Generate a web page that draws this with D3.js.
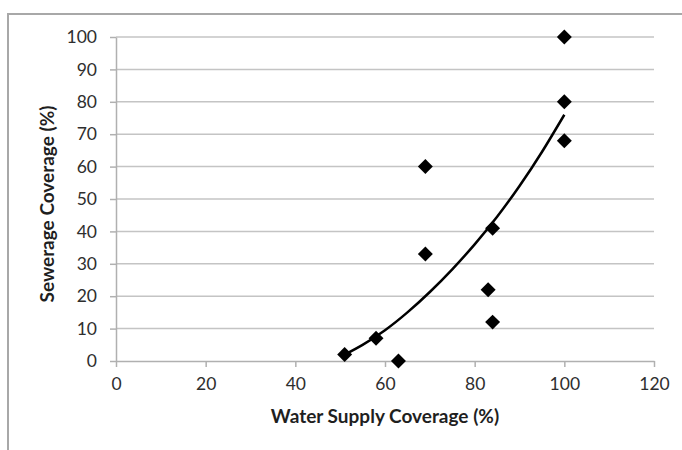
<!DOCTYPE html>
<html>
<head>
<meta charset="utf-8">
<script src="https://cdn.jsdelivr.net/npm/d3@7"></script>
<style>
  html, body { margin: 0; padding: 0; background: #fff; }
  svg { display: block; font-family: Lato, "Open Sans", sans-serif; }
</style>
</head>
<body>
<svg id="chart" width="682" height="450"></svg>
<script>
// Water supply vs. sewerage coverage (%) for each service area
const waterSupply = [100, 100, 100, 69, 84, 69, 83, 84, 58, 51, 63];
const sewerage    = [100,  80,  68, 60, 41, 33, 22, 12,  7,  2,  0];

// Fitted trend curve, sampled along the water-supply axis
const trendX = [51, 55, 60, 65, 70, 75, 80, 85, 90, 95, 100];
const trendY = [2, 5, 9.5, 15, 21.3, 28.3, 36, 44.5, 54, 64.5, 76];

const xTicks = [0, 20, 40, 60, 80, 100, 120];
const yTicks = [0, 10, 20, 30, 40, 50, 60, 70, 80, 90, 100];

const xTitle = "Water Supply Coverage (%)";
const yTitle = "Sewerage Coverage (%)";

const svg = d3.select("#chart");
const plot = { left: 116, right: 654, top: 37, bottom: 361 };

const x = d3.scaleLinear().domain([0, 120]).range([plot.left, plot.right]);
const y = d3.scaleLinear().domain([0, 100]).range([plot.bottom, plot.top]);

// chart frame
svg.append("rect")
  .attr("x", 8).attr("y", 14)
  .attr("width", 700).attr("height", 460)
  .attr("fill", "none")
  .attr("stroke", "#a8a8a8")
  .attr("stroke-width", 2);

// horizontal gridlines
svg.append("g")
  .selectAll("line")
  .data(yTicks.filter(d => d > 0))
  .join("line")
  .attr("x1", plot.left).attr("x2", plot.right)
  .attr("y1", d => y(d)).attr("y2", d => y(d))
  .attr("stroke", "#c4c4c4")
  .attr("stroke-width", 1.5);

// y axis
const yAxis = svg.append("g")
  .attr("transform", `translate(${plot.left},0)`)
  .call(d3.axisLeft(y).tickValues(yTicks).tickSize(6).tickPadding(13).tickSizeOuter(0));

// x axis
const xAxis = svg.append("g")
  .attr("transform", `translate(0,${plot.bottom})`)
  .call(d3.axisBottom(x).tickValues(xTicks).tickSize(6).tickPadding(11).tickSizeOuter(0));

[xAxis, yAxis].forEach(g => {
  g.select(".domain").attr("stroke", "#b0b0b0").attr("stroke-width", 1.5);
  g.selectAll(".tick line").attr("stroke", "#b0b0b0").attr("stroke-width", 1.5);
  g.selectAll(".tick text")
    .attr("fill", "#2e2e2e")
    .style("font-size", "17.5px")
    .style("font-family", "Lato, 'Open Sans', sans-serif");
});

// trend curve
const line = d3.line()
  .x(d => x(d[0]))
  .y(d => y(d[1]))
  .curve(d3.curveNatural);

svg.append("path")
  .datum(trendX.map((v, i) => [v, trendY[i]]))
  .attr("d", line)
  .attr("fill", "none")
  .attr("stroke", "#000")
  .attr("stroke-width", 2.5);

// diamond markers
const diamond = d3.symbol().type(d3.symbolSquare).size(112);
svg.append("g")
  .selectAll("path")
  .data(waterSupply.map((v, i) => [v, sewerage[i]]))
  .join("path")
  .attr("d", diamond)
  .attr("transform", d => `translate(${x(d[0])},${y(d[1])}) rotate(45)`)
  .attr("fill", "#000");

// axis titles
svg.append("text")
  .attr("x", (plot.left + plot.right) / 2)
  .attr("y", 423)
  .attr("text-anchor", "middle")
  .attr("fill", "#1f1f1f")
  .style("font-size", "19px")
  .style("font-weight", "bold")
  .text(xTitle);

svg.append("text")
  .attr("transform", `translate(54,${(plot.top + plot.bottom) / 2 + 5}) rotate(-90)`)
  .attr("text-anchor", "middle")
  .attr("fill", "#1f1f1f")
  .style("font-size", "19px")
  .style("font-weight", "bold")
  .text(yTitle);
</script>
</body>
</html>
